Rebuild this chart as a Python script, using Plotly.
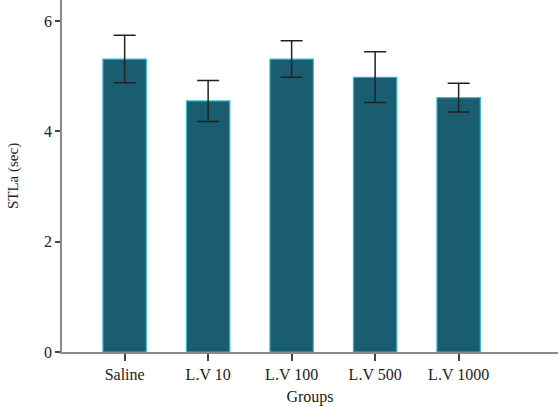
import plotly.graph_objects as go

groups = ["Saline", "L.V 10", "L.V 100", "L.V 500", "L.V 1000"]
stla_mean = [5.31, 4.55, 5.31, 4.98, 4.61]
stla_sem = [0.43, 0.37, 0.33, 0.46, 0.26]
y_ticks = [0, 2, 4, 6]

font_family = "Liberation Serif"

fig = go.Figure()
fig.add_trace(go.Bar(
    x=groups,
    y=stla_mean,
    width=0.52,
    marker=dict(color="#1b5d70", line=dict(color="#3bb8d2", width=1.2)),
    error_y=dict(type="data", array=stla_sem, visible=True,
                 color="#222222", thickness=1.5, width=11),
))

fig.update_layout(
    width=558, height=407,
    margin=dict(l=62, r=0, t=0, b=55),
    plot_bgcolor="white", paper_bgcolor="white",
    showlegend=False,
    font=dict(family=font_family, size=16, color="#222222"),
    xaxis=dict(
        range=[-0.75, 5.19], showline=True, linecolor="#8a8a8a", linewidth=1.5,
        ticks="outside", ticklen=7, tickcolor="#444444", tickwidth=1.5,
        showgrid=False, zeroline=False,
        title=dict(text="Groups", font=dict(size=16), standoff=9),
    ),
    yaxis=dict(
        range=[0, 6.38], tickvals=y_ticks, showline=True, linecolor="#8a8a8a",
        linewidth=1.5, ticks="outside", ticklen=5, tickcolor="#444444", tickwidth=1.5,
        showgrid=False, zeroline=False,
        title=dict(text="STLa (sec)", font=dict(size=15), standoff=22),
    ),
)

fig.write_html("out.html")
